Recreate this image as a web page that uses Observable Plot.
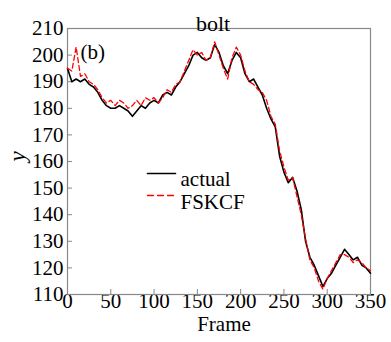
<!DOCTYPE html>
<html><head><meta charset="utf-8">
<script src="https://cdn.jsdelivr.net/npm/d3@7"></script>
<script src="https://cdn.jsdelivr.net/npm/@observablehq/plot@0.6"></script>
<style>body{margin:0;background:#fff}</style>
</head><body><div id="chart"></div>
<script>
const frames = [0,5,10,15,20,25,30,35,40,45,50,55,60,65,70,75,80,85,90,95,100,105,110,115,120,125,130,135,140,145,150,155,160,165,170,175,180,185,190,195,200,205,210,215,220,225,230,235,240,245,250,255,260,265,270,275,280,285,290,295,300,305,310,315,320,325,330,335,340,345,350];
const actual = [195,190,191,190,191,189,188,186,183,181,180,180,181,180,179,177,179,181,180,182,183,182,185,186,185,188,190,193,196,200,201,199,198,199,204,201,196,193,198,201,199,193,190,191,188,185,180,176,173,162,156,152,154,149,142,130,124,121,117,113,116,118,121,124,127,125,123,124,121,120,118];
const fskcf = [195,194,203,192,193,190,189,187,184,182,183,181,183,182,180,181,183,181,184,183,184,182,184,187,186,189,190,194,198,202,200,201,198,199,205,200,195,191,199,203,200,194,190,189,187,186,183,177,174,164,158,153,154,147,140,131,123,120,115,112,116,119,122,125,125,124,122,123,122,120,119];
const xTicks = [0,50,100,150,200,250,300,350];
const yTicks = [110,120,130,140,150,160,170,180,190,200,210];
const seriesNames = ["actual","FSKCF"];

const data = frames.map((f,i)=>({frame:f, actual:actual[i], fskcf:fskcf[i]}));
const font = "'Liberation Serif', 'DejaVu Serif', serif";
const lineShape = {draw(ctx, l){ ctx.moveTo(0,0); ctx.lineTo(0,-l); }};

const plot = Plot.plot({
  width: 391, height: 342,
  marginLeft: 67, marginRight: 21, marginTop: 28, marginBottom: 48,
  style: {fontFamily: font, fontSize: "21px", background: "#fff", color: "#000"},
  x: {domain: [0,350]},
  y: {domain: [110,210]},
  marks: [
    Plot.axisX({ticks: xTicks, tickSize: -5, tickPadding: 4, stroke: "#888", fill: "#000", label: null, fontSize: 21}),
    Plot.axisY({ticks: yTicks, tickSize: -5, tickPadding: 9, stroke: "#888", fill: "#000", label: null, fontSize: 21}),
    Plot.frame({stroke: "#888", strokeWidth: 1.2}),
    Plot.line(data, {x:"frame", y:"actual", stroke:"#000", strokeWidth:1.6}),
    Plot.line(data, {x:"frame", y:"fskcf", stroke:"#f00", strokeWidth:1.3, strokeDasharray:"5,3"}),
    Plot.text(["bolt"], {frameAnchor:"top", dy:-13, dx:-6, fontSize:22}),
    Plot.text(["(b)"], {frameAnchor:"top-left", textAnchor:"start", dx:13, dy:16, fontSize:21}),
    Plot.text(["Frame"], {frameAnchor:"bottom", dy:36, dx:5, fontSize:21}),
    Plot.text(["y"], {frameAnchor:"left", dx:-50, rotate:-90, fontStyle:"italic", fontSize:23}),
    Plot.vector([0], {frameAnchor:"top-left", dx:80, dy:145, length:28, rotate:90, anchor:"start", shape:lineShape, stroke:"#000", strokeWidth:1.6}),
    Plot.vector([0], {frameAnchor:"top-left", dx:80, dy:167, length:28, rotate:90, anchor:"start", shape:lineShape, stroke:"#f00", strokeWidth:1.3, strokeDasharray:"6,4"}),
    Plot.text([seriesNames[0]], {frameAnchor:"top-left", textAnchor:"start", dx:113, dy:143, fontSize:21}),
    Plot.text([seriesNames[1]], {frameAnchor:"top-left", textAnchor:"start", dx:113, dy:166, fontSize:21})
  ]
});
document.getElementById("chart").appendChild(plot);
</script>
</body></html>
